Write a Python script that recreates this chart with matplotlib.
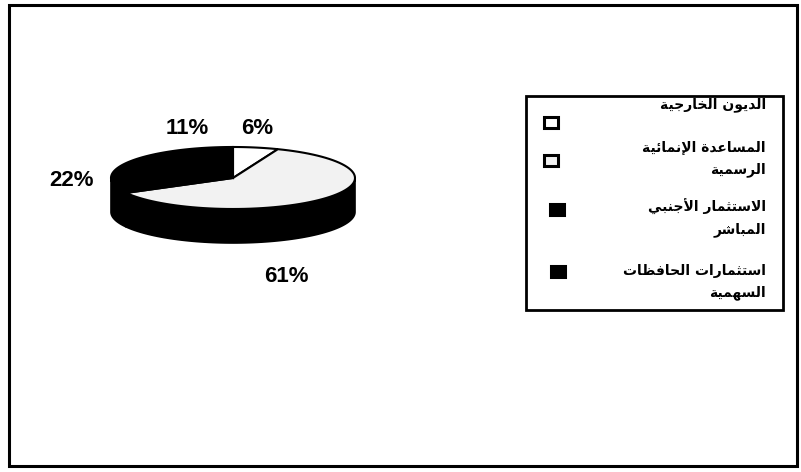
import unicodedata
import numpy as np
import matplotlib.pyplot as plt
from matplotlib.patches import Polygon, Rectangle

plt.rcParams['font.family'] = ['Liberation Sans', 'DejaVu Sans']

# data, clockwise from 12 o'clock
labels = ['الديون الخارجية',
          'المساعدة الإنمائية\nالرسمية',
          'الاستثمار الأجنبي\nالمباشر',
          'استثمارات الحافظات\nالسهمية']
values = [6, 61, 22, 11]
top_colors = ['#ffffff', '#f2f2f2', '#000000', '#000000']
side_colors = ['#000000', '#000000', '#000000', '#000000']


def shape_arabic(text):
    # minimal contextual shaping + visual reordering (matplotlib has no bidi)
    def form(ch, kind):
        try:
            return unicodedata.lookup(unicodedata.name(ch) + ' ' + kind + ' FORM')
        except KeyError:
            return None

    def dual(ch):
        return form(ch, 'INITIAL') is not None

    alefs = {'\u0627': 'ALEF', '\u0623': 'ALEF WITH HAMZA ABOVE',
             '\u0625': 'ALEF WITH HAMZA BELOW', '\u0622': 'ALEF WITH MADDA ABOVE'}
    out_lines = []
    for line in text.split('\n'):
        res = []
        i = 0
        while i < len(line):
            ch = line[i]
            prev = line[i - 1] if i > 0 else ' '
            pj = i > 0 and form(prev, 'ISOLATED') is not None and dual(prev)
            if ch == '\u0644' and i + 1 < len(line) and line[i + 1] in alefs:
                kind = 'FINAL' if pj else 'ISOLATED'
                res.append(unicodedata.lookup('ARABIC LIGATURE LAM WITH ' + alefs[line[i + 1]] + ' ' + kind + ' FORM'))
                i += 2
                continue
            if form(ch, 'ISOLATED') is None:
                res.append(ch)
                i += 1
                continue
            nxt = line[i + 1] if i + 1 < len(line) else ' '
            nj = dual(ch) and form(nxt, 'ISOLATED') is not None
            if pj and nj:
                res.append(form(ch, 'MEDIAL'))
            elif pj:
                res.append(form(ch, 'FINAL'))
            elif nj:
                res.append(form(ch, 'INITIAL'))
            else:
                res.append(form(ch, 'ISOLATED'))
            i += 1
        out_lines.append(''.join(reversed(res)))
    return '\n'.join(out_lines)


fig = plt.figure(figsize=(8.01, 4.72), dpi=100)
ax = fig.add_axes([0, 0, 1, 1])
ax.set_xlim(0, 801)
ax.set_ylim(472, 0)
ax.axis('off')

# outer frame
ax.add_patch(Rectangle((9, 5), 788, 461, fill=False, lw=2.2, ec='black'))

# 3d pie geometry (pixel units)
cx, cy, rx, ry, depth = 233, 178, 122, 31, 34
fracs = np.array(values, dtype=float) / sum(values)
bounds = np.concatenate([[0], np.cumsum(fracs)]) * 360


def rim(a0, a1, dy=0, n=80):
    t = np.radians(np.linspace(a0, a1, n))
    return np.column_stack([cx + rx * np.sin(t), cy - ry * np.cos(t) + dy])


# side walls (front half only: 90..270 deg clockwise from top)
for i in range(len(values)):
    a0, a1 = max(bounds[i], 90), min(bounds[i + 1], 270)
    if a1 > a0:
        upper = rim(a0, a1)
        lower = rim(a1, a0, depth)
        ax.add_patch(Polygon(np.vstack([upper, lower]), closed=True,
                             fc=side_colors[i], ec='black', lw=1.2))

# top faces
for i in range(len(values)):
    pts = np.vstack([[cx, cy], rim(bounds[i], bounds[i + 1])])
    ax.add_patch(Polygon(pts, closed=True, fc=top_colors[i], ec='black', lw=1.5))

# percentage labels
label_xy = [(257, 128), (286, 277), (71, 180), (187, 128)]
for v, (x, y) in zip(values, label_xy):
    ax.text(x, y, '{}%'.format(v), ha='center', va='center', fontsize=16,
            fontweight='bold', color='black')

# legend
ax.add_patch(Rectangle((526, 96), 257, 214, fill=False, lw=2, ec='black'))
sq_xy = [(544, 117), (544, 155), (550, 204), (551, 266)]
txt_y = [105, 159, 218, 282]
for lab, c, (sx, sy), ty in zip(labels, top_colors, sq_xy, txt_y):
    ax.add_patch(Rectangle((sx, sy), 14, 11, fc=c, ec='black', lw=2.2))
    ax.text(766, ty, shape_arabic(lab), ha='right', va='center', fontsize=10,
            fontweight='bold', family=['DejaVu Sans Condensed', 'DejaVu Sans'],
            linespacing=1.6, multialignment='right')

fig.savefig('out.png', dpi=100)
